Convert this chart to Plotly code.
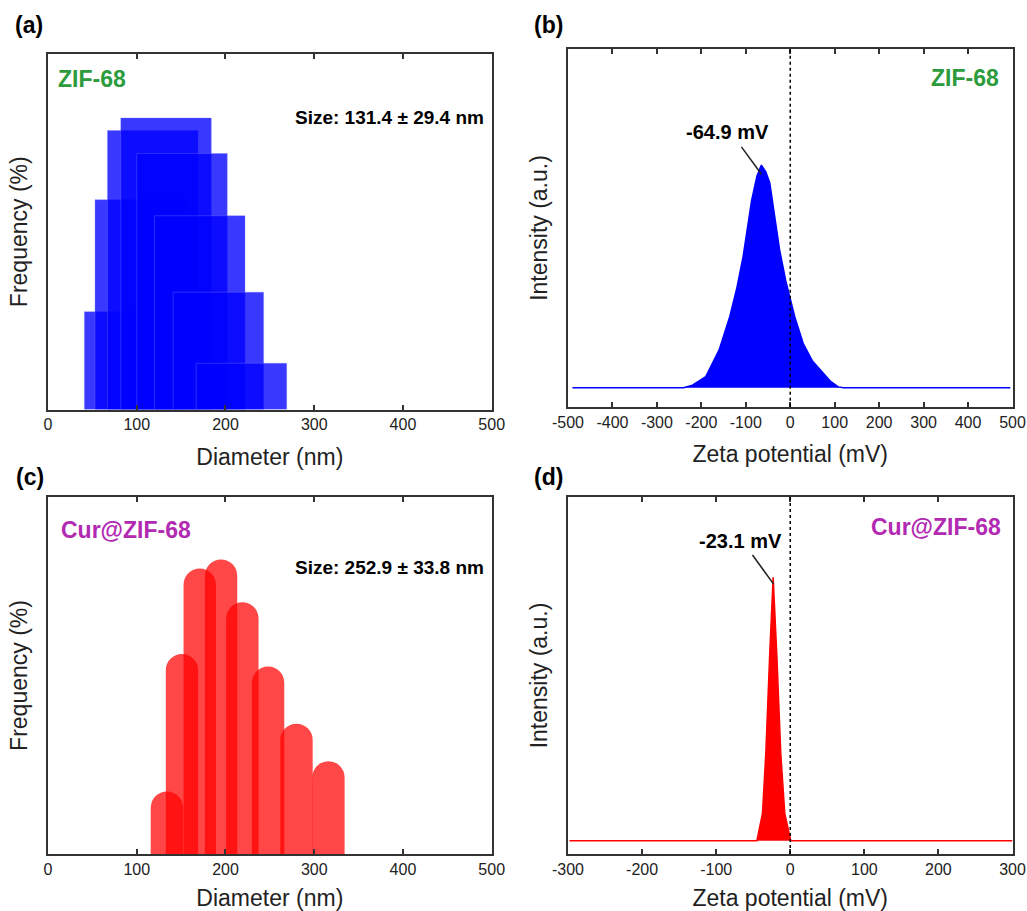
import plotly.graph_objects as go

# ---------------- data ----------------
# (a) ZIF-68 size distribution (overlapping bars)
dia_a = [92, 104, 118, 133, 151, 171, 192, 218]
freq_a = [5.5, 11.8, 15.7, 16.4, 14.4, 10.9, 6.6, 2.6]
bar_w_a = 102

# (c) Cur@ZIF-68 size distribution (rounded bars)
dia_c = [134, 151, 171, 195, 219, 248, 280, 316]
freq_c = [3.5, 11.2, 16.0, 16.5, 14.1, 10.5, 7.3, 5.2]
bar_w_c = 36.5

# (b) ZIF-68 zeta potential
zeta_b = [-490, -240, -220, -190, -160, -136, -120, -106, -87, -75, -65, -55, -46,
          -35, -24, -10, 0, 10, 29, 50, 74, 90, 108, 120, 495]
inten_b = [0, 0, 0.012, 0.05, 0.17, 0.32, 0.45, 0.59, 0.84, 0.95, 1.0, 0.97, 0.92,
           0.78, 0.62, 0.48, 0.40, 0.32, 0.20, 0.12, 0.066, 0.03, 0.004, 0, 0]

# (d) Cur@ZIF-68 zeta potential
zeta_d = [-298, -45, -37.5, -33, -27.7, -23.1, -18.2, -12.8, -7.4, 0.7, 300]
inten_d = [0, 0, 0.104, 0.332, 0.711, 1.0, 0.711, 0.332, 0.104, 0, 0]

ticks_ac = [0, 100, 200, 300, 400, 500]
ticks_b = [-500, -400, -300, -200, -100, 0, 100, 200, 300, 400, 500]
ticks_d = [-300, -200, -100, 0, 100, 200, 300]

FONT = "Arial, Liberation Sans, sans-serif"
GREEN = "rgb(44,155,60)"
MAGENTA = "rgb(178,42,178)"
AX = "#333333"

fig = go.Figure()

fig.add_trace(go.Bar(x=dia_a, y=freq_a, width=[bar_w_a] * len(dia_a),
                     marker=dict(color="rgba(0,0,255,0.78)",
                                 line=dict(color="rgba(120,120,255,0.6)", width=0.6)),
                     xaxis="x", yaxis="y", showlegend=False))
fig.add_trace(go.Scatter(x=zeta_b, y=inten_b, mode="lines", fill="tozeroy",
                         line=dict(color="blue", width=1.5), fillcolor="blue",
                         xaxis="x2", yaxis="y2", showlegend=False))
fig.add_trace(go.Bar(x=dia_c, y=freq_c, width=[bar_w_c] * len(dia_c),
                     marker=dict(color="rgba(255,0,0,0.72)", cornerradius="50%",
                                 line=dict(width=0)),
                     xaxis="x3", yaxis="y3", showlegend=False))
fig.add_trace(go.Scatter(x=zeta_d, y=inten_d, mode="lines", fill="tozeroy",
                         line=dict(color="red", width=1.5), fillcolor="red",
                         xaxis="x4", yaxis="y4", showlegend=False))


def xax(domain, rng, tickvals, title, anchor):
    return dict(domain=domain, range=rng, tickvals=tickvals,
                ticktext=[str(v) for v in tickvals], anchor=anchor, automargin=False,
                showline=True, linecolor=AX, linewidth=1.5, mirror="ticks",
                ticks="inside", ticklen=5, tickwidth=1.5, tickcolor=AX,
                tickfont=dict(family=FONT, size=16, color="#222"),
                showgrid=False, zeroline=False,
                title=dict(text=title, font=dict(family=FONT, size=23, color="#222"),
                           standoff=16))


def yax(domain, rng, title, anchor):
    return dict(domain=domain, range=rng, anchor=anchor, automargin=False,
                showline=True, linecolor=AX, linewidth=1.5, mirror=True,
                ticks="", showticklabels=False, showgrid=False, zeroline=False,
                title=dict(text=title, font=dict(family=FONT, size=23, color="#222"),
                           standoff=12))


W, H = 1027, 911
xa = [48 / W, 491.7 / W]
xb = [568 / W, 1012.5 / W]
ya = [1 - 409.5 / H, 1 - 54 / H]
yb = [1 - 406.7 / H, 1 - 49.3 / H]
yc = [1 - 854 / H, 1 - 497 / H]

fig.update_layout(
    width=W, height=H, margin=dict(l=0, r=0, t=0, b=0, autoexpand=False),
    paper_bgcolor="white", plot_bgcolor="white", barmode="overlay",
    xaxis=xax(xa, [0, 500], ticks_ac, "Diameter (nm)", "y"),
    yaxis=yax(ya, [0, 20], "Frequency (%)", "x"),
    xaxis2=xax(xb, [-500, 500], ticks_b, "Zeta potential (mV)", "y2"),
    yaxis2=yax(yb, [-0.085, 1.52], "Intensity (a.u.)", "x2"),
    xaxis3=xax(xa, [0, 500], ticks_ac, "Diameter (nm)", "y3"),
    yaxis3=yax(yc, [0, 20], "Frequency (%)", "x3"),
    xaxis4=xax(xb, [-300, 300], ticks_d, "Zeta potential (mV)", "y4"),
    yaxis4=yax(yc, [-0.0505, 1.305], "Intensity (a.u.)", "x4"),
)

# dotted zero lines
for xr, yr in [("x2", "y2 domain"), ("x4", "y4 domain")]:
    fig.add_shape(type="line", xref=xr, yref=yr, x0=0, x1=0, y0=0, y1=1,
                  line=dict(color="black", width=1.5, dash="dot"))

# pointer lines for peak labels
fig.add_shape(type="line", xref="x2", yref="y2", x0=-109.8, y0=1.082, x1=-64.8, y1=0.959,
              line=dict(color="#222", width=1.5))
fig.add_shape(type="line", xref="x4", yref="y4", x0=-51.0, y0=1.085, x1=-22.7, y1=0.975,
              line=dict(color="#222", width=1.5))


def ann(text, x, y, xref, yref, size, color="black", xanchor="center", bold=True):
    fig.add_annotation(text=text, x=x, y=y, xref=xref, yref=yref, showarrow=False,
                       xanchor=xanchor, yanchor="middle",
                       font=dict(family=FONT, size=size, color=color,
                                 weight="bold" if bold else "normal"))


# panel labels
ann("(a)", 13 / W, 1 - 25 / H, "paper", "paper", 23, xanchor="left")
ann("(b)", 532 / W, 1 - 25 / H, "paper", "paper", 23, xanchor="left")
ann("(c)", 14 / W, 1 - 477 / H, "paper", "paper", 23, xanchor="left")
ann("(d)", 532 / W, 1 - 477 / H, "paper", "paper", 23, xanchor="left")

# sample names
ann("ZIF-68", 9, 18.6, "x", "y", 23, GREEN, "left")
ann("ZIF-68", 475, 1.392, "x2", "y2", 23, GREEN, "right")
ann("Cur@ZIF-68", 12.4, 18.15, "x3", "y3", 23, MAGENTA, "left")
ann("Cur@ZIF-68", 287, 1.191, "x4", "y4", 23, MAGENTA, "right")

# size labels
ann("Size: 131.4 ± 29.4 nm", 493.5, 16.4, "x", "y", 19, xanchor="right")
ann("Size: 252.9 ± 33.8 nm", 493.5, 16.05, "x3", "y3", 19, xanchor="right")

# peak labels
ann("-64.9 mV", -140.1, 1.150, "x2", "y2", 20)
ann("-23.1 mV", -66.8, 1.138, "x4", "y4", 20)

fig.write_html("out.html", config={"displayModeBar": False},
               post_script="document.body.style.margin='0';document.body.style.overflow='hidden';")
